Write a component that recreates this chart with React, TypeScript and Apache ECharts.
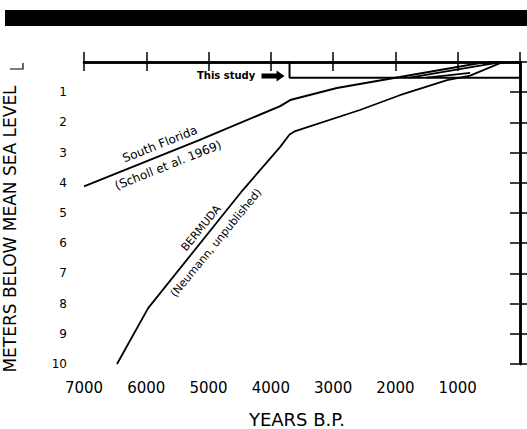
import React, { useEffect, useRef } from "react";
import * as echarts from "echarts";

// ---- data (years B.P., metres below mean sea level) ----
const yearTicks = [7000, 6000, 5000, 4000, 3000, 2000, 1000, 0];
const depthTicks = [0, 1, 2, 3, 4, 5, 6, 7, 8, 9, 10];

const southFlorida: [number, number][] = [
  [7000, 4.12], [5140, 2.58], [3850, 1.46], [3690, 1.26],
  [2940, 0.86], [1930, 0.5], [640, 0.03], [300, 0],
];
const bermuda: [number, number][] = [
  [6470, 10], [5970, 8.15], [4450, 4.24], [3850, 2.81], [3700, 2.4], [3620, 2.3],
  [2570, 1.59], [1930, 1.1], [1170, 0.6], [800, 0.45], [300, 0.02], [0, 0],
];
const studyUpper: [number, number][] = [[1770, 0.52], [640, 0.12], [300, 0]];
const studyLower: [number, number][] = [[1500, 0.52], [800, 0.36]];
const studyBox: [number, number][] = [[3700, 0], [3700, 0.52], [0, 0.52]];

// annotation anchors (data units)
const sfLabel = { text: "South Florida", at: [5780, 2.72] as [number, number] };
const sfRef = { text: "(Scholl et al. 1969)", at: [5650, 3.42] as [number, number] };
const bmLabel = { text: "BERMUDA", at: [5120, 5.5] as [number, number] };
const bmRef = { text: "(Neumann, unpublished)", at: [4880, 5.99] as [number, number] };
const studyLabel = { text: "This study", at: [4250, 0.46] as [number, number] };
const arrowSpan: [number, number] = [4150, 3780];

const FONT = "DejaVu Sans";

export default function App() {
  const ref = useRef<HTMLDivElement>(null);
  useEffect(() => {
    if (!ref.current) return;
    const chart = echarts.init(ref.current, null, { renderer: "svg" });
    const axisLine = { lineStyle: { color: "#000", width: 2.5 } };
    const tickStyle = { color: "#000", width: 1.5 };
    const lineSeries = (name: string, data: [number, number][], width: number) => ({
      name,
      type: "line",
      data,
      showSymbol: false,
      symbol: "none",
      smooth: false,
      clip: false,
      lineStyle: { color: "#000", width },
      z: 3,
    });
    chart.setOption({
      animation: false,
      backgroundColor: "#fff",
      grid: { left: 84, right: 7, top: 62, bottom: 65, containLabel: false },
      xAxis: [
        {
          type: "value", position: "bottom", inverse: true, min: 0, max: 7000, interval: 1000,
          axisLine, axisTick: { show: true, length: 9, lineStyle: tickStyle },
          axisLabel: {
            color: "#000", fontFamily: FONT, fontSize: 15, margin: 16,
            formatter: (v: number) => (v === 0 ? "" : String(v)),
          },
          splitLine: { show: false },
        },
        {
          type: "value", position: "top", inverse: true, min: 0, max: 7000, interval: 1000,
          axisLine, axisTick: { show: true, length: 10, lineStyle: tickStyle },
          axisLabel: { show: false }, splitLine: { show: false },
        },
      ],
      yAxis: [
        {
          type: "value", position: "left", inverse: true, min: 0, max: 10, interval: 1,
          axisLine, axisTick: { show: true, length: 10, lineStyle: tickStyle },
          axisLabel: {
            color: "#000", fontFamily: FONT, fontSize: 12, margin: 17,
            formatter: (v: number) => (v === 0 ? "" : String(v)),
          },
          splitLine: { show: false },
        },
        {
          type: "value", position: "right", inverse: true, min: 0, max: 10, interval: 1,
          axisLine, axisTick: { show: true, length: 8, lineStyle: tickStyle },
          axisLabel: { show: false }, splitLine: { show: false },
        },
      ],
      series: [
        lineSeries("South Florida", southFlorida, 2),
        lineSeries("Bermuda", bermuda, 1.8),
        lineSeries("This study box", studyBox, 2),
        lineSeries("This study upper", studyUpper, 1.8),
        lineSeries("This study lower", studyLower, 1.8),
      ],
    });

    const px = (p: [number, number]) =>
      chart.convertToPixel({ xAxisIndex: 0, yAxisIndex: 0 }, p) as number[];
    const sf = px(sfLabel.at);
    const sr = px(sfRef.at);
    const bl = px(bmLabel.at);
    const br = px(bmRef.at);
    const st = px(studyLabel.at);
    const a0 = px([arrowSpan[0], studyLabel.at[1]]);
    const a1 = px([arrowSpan[1], studyLabel.at[1]]);
    const sfRot = Math.atan(0.4);
    const bmRot = Math.atan(1.22);
    const ay = a0[1];
    const textEl = (t: string, p: number[], rot: number, size: number, weight = "normal") => ({
      type: "text", x: p[0], y: p[1], rotation: rot, z: 10,
      style: {
        text: t, fill: "#000", font: `${weight} ${size}px '${FONT}'`,
        align: "center", verticalAlign: "middle",
      },
    });
    chart.setOption({
      graphic: [
        { type: "rect", shape: { x: 5, y: 10, width: 522, height: 16 }, style: { fill: "#000" } },
        { type: "polyline", shape: { points: [[10, 69], [23, 69], [23, 63]] }, style: { stroke: "#000", lineWidth: 1.2, fill: null } },
        textEl(sfLabel.text, sf, sfRot, 12),
        textEl(sfRef.text, sr, sfRot, 12),
        textEl(bmLabel.text, bl, bmRot, 11),
        textEl(bmRef.text, br, bmRot, 11),
        {
          type: "text", x: st[0], y: st[1], z: 10,
          style: { text: studyLabel.text, fill: "#000", font: `bold 10px '${FONT}'`, align: "right", verticalAlign: "middle" },
        },
        {
          type: "polygon", z: 10,
          shape: {
            points: [
              [a0[0], ay - 2.5], [a1[0] - 8, ay - 2.5], [a1[0] - 8, ay - 5.5], [a1[0], ay],
              [a1[0] - 8, ay + 5.5], [a1[0] - 8, ay + 2.5], [a0[0], ay + 2.5],
            ],
          },
          style: { fill: "#000" },
        },
        {
          type: "text", x: 10, y: 229, rotation: Math.PI / 2, z: 10,
          style: { text: "METERS BELOW MEAN SEA LEVEL", fill: "#000", font: `17px '${FONT}'`, align: "center", verticalAlign: "middle" },
        },
        {
          type: "text", x: 297, y: 419, z: 10,
          style: { text: "YEARS B.P.", fill: "#000", font: `18px '${FONT}'`, align: "center", verticalAlign: "middle" },
        },
      ],
    });
    return () => chart.dispose();
  }, []);
  return (
    <div
      ref={ref}
      style={{ position: "fixed", left: 0, top: 0, width: 527, height: 429, background: "#fff" }}
    />
  );
}
